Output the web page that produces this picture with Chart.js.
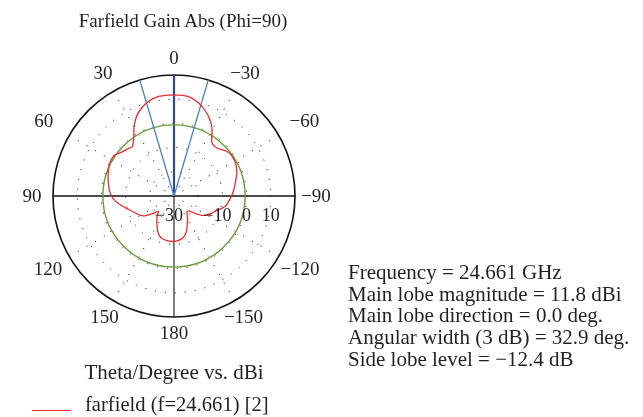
<!DOCTYPE html>
<html>
<head>
<meta charset="utf-8">
<script src="https://cdn.jsdelivr.net/npm/chart.js@4.4.1/dist/chart.umd.min.js"></script>
<style>
  html, body { margin: 0; padding: 0; background: #fff; }
  #stage { position: relative; width: 643px; height: 417px; overflow: hidden; }
  #c { position: absolute; left: 0; top: 0; }
  .txt { position: absolute; white-space: nowrap; font-family: "Liberation Serif", "Times New Roman", serif;
         color: #231f20; line-height: 1; }
  #legendLine { position: absolute; left: 32px; top: 410px; width: 39px; height: 0; border-top: 1.3px solid #ee2b2f; }
</style>
</head>
<body>
<div id="stage">
  <canvas id="c" width="643" height="417"></canvas>
  <div class="txt" id="title"></div>
  <div class="txt" id="caption"></div>
  <div id="legendLine"></div>
  <div class="txt" id="legendText"></div>
  <div class="txt" id="info"></div>
</div>
<script>
// Farfield cut, Phi = 90: theta in degrees, gain in dBi
const thetaDeg = [
  -180, -175, -170, -165, -160, -155, -150, -145, -140, -135, -130, -125,
  -120, -115, -110, -105, -100,  -95,  -90,  -85,  -80,  -75,  -70,  -65,
   -60,  -55,  -50,  -45,  -40,  -35,  -30,  -25,  -20,  -15,  -10,   -5,
     0,    5,   10,   15,   20,   25,   30,   35,   40,   45,   50,   55,
    60,   65,   70,   75,   80,   85,   90,   95,  100,  105,  110,  115,
   120,  125,  130,  135,  140,  145,  150,  155,  160,  165,  170,  175
];
const gainDbi = [
  -11.3, -11.5, -12.0, -13.0, -14.8, -17.0, -18.8, -20.5, -21.6, -21.3, -19.0, -16.0,
  -14.4, -13.0, -11.7,  -9.8,  -8.0,  -7.2,  -6.2,  -5.3,  -4.5,  -3.5,  -2.4,  -1.6,
   -1.0,  -0.9,  -1.4,  -2.8,  -3.5,  -2.8,   1.5,   5.0,   7.6,   9.7,  11.2,  11.7,
   11.8,  11.7,  11.5,  10.5,   8.8,   6.5,   3.0,  -1.0,  -3.3,  -2.6,  -1.8,  -0.3,
    0.0,  -0.4,  -1.1,  -1.8,  -2.5,  -3.2,  -4.2,  -5.7,  -7.8,  -9.8, -11.6, -12.9,
  -13.9, -15.8, -18.8, -21.0, -19.1, -17.6, -16.0, -14.0, -12.5, -11.7, -11.4, -11.3
];

// Radial axis (dBi) and angular axis (degrees)
const radialMin = -30;
const radialMax = 20;
const radialStep = 10;
const radialTickValues = [-30, -10, 0, 10];
const radialTickLabels = ['\u221230', '\u221210', '0', '10'];
const angleTickValues = [0, 30, 60, 90, 120, 150, 180, -150, -120, -90, -60, -30];
const angleTickLabels = ['0', '30', '60', '90', '120', '150', '180',
                         '\u2212150', '\u2212120', '\u221290', '\u221260', '\u221230'];

// Summary figures
const frequencyGHz = 24.661;
const mainLobeDbi = 11.8;
const mainLobeDirDeg = 0.0;
const beamWidthDeg = 32.9;
const sideLobeLevelDb = -12.4;

const fmt = v => (v < 0 ? '\u2212' + Math.abs(v).toFixed(1) : v.toFixed(1));

document.getElementById('title').textContent = 'Farfield Gain Abs (Phi=90)';
document.getElementById('caption').textContent = 'Theta/Degree vs. dBi';
document.getElementById('legendText').textContent = 'farfield (f=' + frequencyGHz + ') [2]';
document.getElementById('info').innerHTML = [
  'Frequency = ' + frequencyGHz + ' GHz',
  'Main lobe magnitude = ' + fmt(mainLobeDbi) + ' dBi',
  'Main lobe direction = ' + fmt(mainLobeDirDeg) + ' deg.',
  'Angular width (3 dB) = ' + fmt(beamWidthDeg) + ' deg.',
  'Side lobe level = ' + fmt(sideLobeLevelDb) + ' dB'
].join('<br>');

// Place text blocks by baseline (Liberation Serif: ascent 0.891em, descent 0.216em)
function placeText(id, x, baseline, size, centered, lineHeight) {
  const el = document.getElementById(id);
  const lh = lineHeight || size;
  el.style.fontSize = size + 'px';
  el.style.lineHeight = lh + 'px';
  const asc = (lh - 1.107 * size) / 2 + 0.891 * size;
  el.style.top = (baseline - asc) + 'px';
  el.style.left = x + 'px';
  if (centered) el.style.transform = 'translateX(-50%)';
}
placeText('title', 183, 27, 19, true);
placeText('caption', 174, 380, 21, true);
placeText('legendText', 85, 411, 20.6, false);
placeText('info', 348, 280, 21, false, 21.7);

// The radar scale runs clockwise from the top; theta grows counter-clockwise,
// so the samples are ordered by clockwise angle.
const cwAngle = t => ((-t) % 360 + 360) % 360;
const order = thetaDeg.map((t, i) => i).sort((a, b) => cwAngle(thetaDeg[a]) - cwAngle(thetaDeg[b]));
const radarTheta = order.map(i => thetaDeg[i]);
const radarGain = order.map(i => gainDbi[i]);

const toRad = d => d * Math.PI / 180;
const FONT = '"Liberation Serif", "Times New Roman", serif';
const TEXT_COLOR = '#231f20';
// gap between the rim and each angle label centre, by |theta|
const labelGap = { 0: 17, 30: 21, 60: 29.5, 90: 21, 120: 24.5, 150: 18, 180: 15.5 };

const overlay = {
  id: 'farfieldOverlay',
  beforeDatasetsDraw(chart) {
    const s = chart.scales.r;
    const ctx = chart.ctx;
    const R = s.getDistanceFromCenterForValue(s.max);
    ctx.save();
    // side lobe level ring
    ctx.beginPath();
    ctx.arc(s.xCenter, s.yCenter, s.getDistanceFromCenterForValue(mainLobeDbi + sideLobeLevelDb), 0, Math.PI * 2);
    ctx.strokeStyle = '#6b9b3a';
    ctx.lineWidth = 1.4;
    ctx.stroke();
    // 3 dB beam width limits
    ctx.strokeStyle = '#4b83c9';
    ctx.lineWidth = 1.3;
    [-1, 1].forEach(sg => {
      const a = toRad(mainLobeDirDeg + sg * beamWidthDeg / 2);
      const p = s.getPointPosition(0, R, -a);
      ctx.beginPath();
      ctx.moveTo(s.xCenter, s.yCenter);
      ctx.lineTo(p.x, p.y);
      ctx.stroke();
    });
    ctx.restore();
  },
  afterDraw(chart) {
    const s = chart.scales.r;
    const ctx = chart.ctx;
    const R = s.getDistanceFromCenterForValue(s.max);
    ctx.save();
    ctx.fillStyle = TEXT_COLOR;
    ctx.textBaseline = 'alphabetic';
    ctx.textAlign = 'center';
    // angle labels around the rim
    ctx.font = '19px ' + FONT;
    const half = 0.335 * 19;
    angleTickValues.forEach((t, i) => {
      const a = toRad(t);
      const p = s.getPointPosition(0, R + labelGap[Math.abs(t)], -a);
      ctx.fillText(angleTickLabels[i], p.x, p.y + half);
    });
    // radial (dBi) labels along the theta = -90 axis
    ctx.font = '18px ' + FONT;
    const minusW = ctx.measureText('\u2212').width;
    radialTickValues.forEach((v, i) => {
      const lbl = radialTickLabels[i];
      const p = s.getPointPosition(0, s.getDistanceFromCenterForValue(v), Math.PI / 2);
      const shift = lbl.startsWith('\u2212') ? -minusW / 2 : 0;
      ctx.fillText(lbl, p.x + shift, s.yCenter + 25);
    });
    ctx.restore();
  }
};

const thetaOf = c => radarTheta[c.index];

new Chart(document.getElementById('c'), {
  type: 'radar',
  data: {
    labels: radarTheta.map(String),
    datasets: [{
      label: 'farfield',
      data: radarGain,
      borderColor: '#ee2b2f',
      borderWidth: 1.3,
      pointRadius: 0,
      fill: false,
      tension: 0.2
    }]
  },
  options: {
    responsive: false,
    animation: false,
    devicePixelRatio: 1,
    events: [],
    layout: { padding: { left: 53, top: 75, right: 348, bottom: 100 } },
    plugins: { legend: { display: false }, tooltip: { enabled: false }, title: { display: false } },
    scales: {
      r: {
        min: radialMin,
        max: radialMax,
        ticks: { display: false, stepSize: radialStep },
        pointLabels: { display: false },
        grid: {
          circular: true,
          color: c => (c.tick && c.tick.value === radialMax) ? '#111' : (c.tick && c.tick.value === radialMin ? 'rgba(0,0,0,0)' : '#000'),
          lineWidth: c => (c.tick && c.tick.value === radialMax) ? 1.6 : 1
        },
        border: {
          dash: c => (c.tick && c.tick.value === radialMax) ? [] : [1, 9]
        },
        angleLines: {
          color: c => {
            const t = thetaOf(c);
            if (t % 30 !== 0) return 'rgba(0,0,0,0)';
            if (t === 0) return '#2c4a8c';
            if (t === 180) return '#3d3d3d';
            if (Math.abs(t) === 90) return '#111';
            return '#000';
          },
          lineWidth: c => {
            const t = thetaOf(c);
            if (t % 30 !== 0) return 0;
            if (t === 0 || t === 180) return 2.2;
            if (Math.abs(t) === 90) return 1.4;
            return 1;
          },
          borderDash: c => {
            const t = thetaOf(c);
            return (t % 90 === 0) ? [] : [1, 9];
          }
        }
      }
    }
  },
  plugins: [overlay]
});
</script>
</body>
</html>
